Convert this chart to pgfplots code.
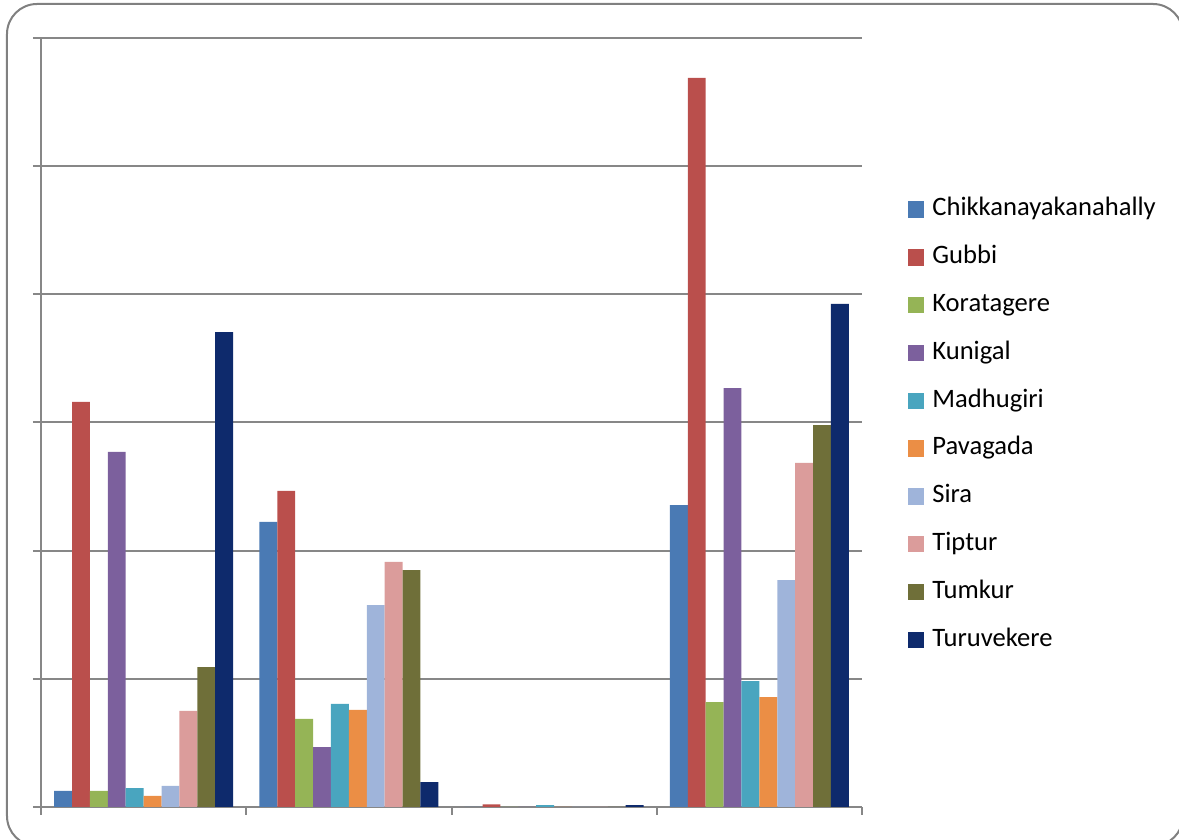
\documentclass[border=0pt]{standalone}
\usepackage{fontspec}
\setmainfont{Carlito}
\usepackage{pgfplots}
\usepackage{pgfplotstable}
\pgfplotsset{compat=1.18}
\definecolor{cA}{HTML}{4A7AB4}
\definecolor{cB}{HTML}{BA4F4C}
\definecolor{cC}{HTML}{95B456}
\definecolor{cD}{HTML}{7C609D}
\definecolor{cE}{HTML}{49A5BF}
\definecolor{cF}{HTML}{EB8E45}
\definecolor{cG}{HTML}{9FB4DA}
\definecolor{cH}{HTML}{DB9C9B}
\definecolor{cI}{HTML}{6F6F39}
\definecolor{cJ}{HTML}{0E2A6C}
\definecolor{gridgray}{HTML}{878787}
\definecolor{framegray}{HTML}{808080}
\pgfplotstableread{
x Chik Gubbi Kora Kuni Madh Pava Sira Tipt Tumk Turu
0 12.5 316 12.5 277 14.8 8.6 16.4 74.9 109.2 370.6
1 222.4 246.6 68.7 46.8 80.4 75.7 157.6 191.2 184.9 19.5
2 0 2 0 0 1.5 0 0 0 0 1.5
3 235.6 568.8 81.9 326.9 98.3 85.8 177.1 268.4 298.0 392.5
}\data
\pgfplotsset{sqleg/.style={legend image code/.code={\fill[##1] (0pt,-4.5pt) rectangle (8pt,3.7pt);}}}
\begin{document}
\begin{tikzpicture}[x=1pt,y=1pt]
\path[use as bounding box] (-20.5,-16.5) rectangle (569,403.5);
\draw[framegray, line width=1pt, rounded corners=15pt] (-17,-19.5) rectangle (571,401.5);
\begin{axis}[
  at={(0,0)}, anchor=south west,
  scale only axis, width=410.5pt, height=384.5pt,
  ybar=0pt, bar width=8.95pt,
  xmin=-0.5, xmax=3.5, ymin=0, ymax=600,
  xtick={-0.5,0.5,1.5,2.5,3.5}, xticklabels={},
  ytick={0,100,...,600}, yticklabels={},
  axis x line=bottom, axis y line=left,
  axis line style={-, draw=gridgray, line width=1pt},
  tick align=outside, major tick length=4pt,
  xtick style={draw=gridgray, line width=1pt},
  ytick style={draw=gridgray, line width=1pt},
  ymajorgrids, grid style={draw=gridgray, line width=1pt},
  legend style={draw=none, fill=none, at={(1.056,0.794)}, anchor=north west,
    font=\fontsize{13.3}{16}\selectfont, row sep=11.9pt, inner sep=0pt,
    nodes={inner sep=0pt, text height=9.5pt, text depth=2.5pt},
    /tikz/every odd column/.append style={column sep=4pt}},
  legend cell align=left,
]
\addplot[fill=cA, draw=none, sqleg] table[x=x, y=Chik] {\data};
\addplot[fill=cB, draw=none, sqleg] table[x=x, y=Gubbi] {\data};
\addplot[fill=cC, draw=none, sqleg] table[x=x, y=Kora] {\data};
\addplot[fill=cD, draw=none, sqleg] table[x=x, y=Kuni] {\data};
\addplot[fill=cE, draw=none, sqleg] table[x=x, y=Madh] {\data};
\addplot[fill=cF, draw=none, sqleg] table[x=x, y=Pava] {\data};
\addplot[fill=cG, draw=none, sqleg] table[x=x, y=Sira] {\data};
\addplot[fill=cH, draw=none, sqleg] table[x=x, y=Tipt] {\data};
\addplot[fill=cI, draw=none, sqleg] table[x=x, y=Tumk] {\data};
\addplot[fill=cJ, draw=none, sqleg] table[x=x, y=Turu] {\data};
\legend{Chikkanayakanahally, Gubbi, Koratagere, Kunigal, Madhugiri, Pavagada, Sira, Tiptur, Tumkur, Turuvekere}
\end{axis}
\end{tikzpicture}
\end{document}
